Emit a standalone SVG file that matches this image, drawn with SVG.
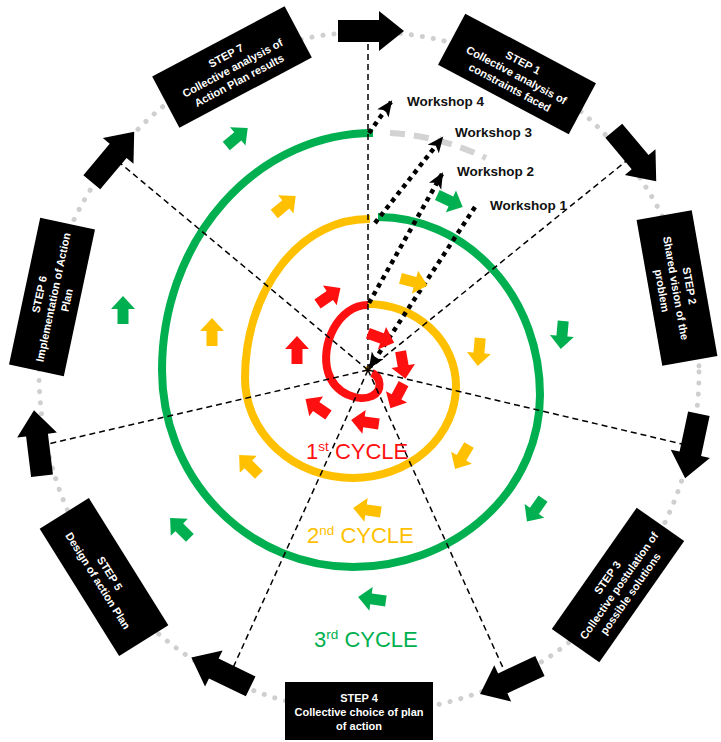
<svg xmlns="http://www.w3.org/2000/svg" xmlns:xlink="http://www.w3.org/1999/xlink" width="721" height="742" viewBox="0 0 721 742">
<style>
.ring{fill:none;stroke-width:8;stroke-linecap:butt}
.rad{stroke:#000;stroke-width:1.5;stroke-dasharray:6 4;fill:none}
.ws{stroke:#000;stroke-width:4.5;stroke-dasharray:4.5 4.5;fill:none}
.box{fill:#000}
.bt{fill:#fff;font-family:"Liberation Sans Narrow","Liberation Sans",Arial,sans-serif;font-weight:bold;font-size:11px;text-anchor:middle}
.wl{fill:#111;font-family:"Liberation Sans",Arial,sans-serif;font-weight:bold;font-size:13.5px}
.cy{font-family:"Liberation Sans",Arial,sans-serif;font-size:22px}
.g{fill:#00b050}.o{fill:#ffc000}.r{fill:#ff1010}
</style>
<defs>
<path id="ba" d="M-33,-11 L8,-11 L8,-20 L33,0 L8,20 L8,11 L-33,11 Z" fill="#000"/>
<path id="sa" d="M-14,-5.5 L1,-5.5 L1,-12 L14,0 L1,12 L1,5.5 L-14,5.5 Z"/>
<marker id="ah" markerUnits="userSpaceOnUse" markerWidth="18" markerHeight="16" refX="14" refY="7" orient="auto">
<path d="M0,0 L16,7 L0,14 L4,7 Z" fill="#000"/>
</marker>
</defs>
<rect width="721" height="742" fill="#fff"/>
<ellipse cx="369" cy="372" rx="330" ry="340" fill="none" stroke="#cfcfcf" stroke-width="5" stroke-linecap="round" stroke-dasharray="0.1 11"/>
<g id="cycles">
<path class="ring" stroke="#ff1010" stroke-width="9" d="M372,373 C381,377 383,391 372,396 C360,402 335,395 328,372 C320,345 338,305 368,305"/>
<path class="ring" stroke="#ffc000" d="M368,304 A88,82 0 0 1 456,386 A103,92 0 0 1 353,478 A108,100 0 0 1 245,378 A123,159 0 0 1 370,219"/>
<path class="ring" stroke="#00b050" d="M378,217 A162,178 0 0 1 540,395 A187,172 0 0 1 353,567 A191,197 0 0 1 162,370 A211,237 0 0 1 373,133"/>
<path fill="none" stroke="#d3d3d3" stroke-width="6" stroke-dasharray="15 9" d="M390,133 Q440,136 486,158"/>
<circle cx="368" cy="369" r="3" fill="#f0a000"/>
</g>
<g id="connectors">
<line class="rad" x1="368" y1="370" x2="368" y2="40"/>
<line class="rad" x1="368" y1="370" x2="630" y2="158"/>
<line class="rad" x1="368" y1="370" x2="682" y2="444"/>
<line class="rad" x1="368" y1="370" x2="504" y2="670"/>
<line class="rad" x1="368" y1="370" x2="232" y2="670"/>
<line class="rad" x1="368" y1="370" x2="48" y2="444"/>
<line class="rad" x1="368" y1="370" x2="120" y2="163"/>
<line class="ws" x1="369" y1="133" x2="391" y2="102" marker-end="url(#ah)"/>
<line class="ws" x1="375" y1="223" x2="442" y2="138" marker-end="url(#ah)"/>
<line class="ws" x1="369" y1="303" x2="442" y2="174" marker-end="url(#ah)"/>
<line class="ws" x1="475" y1="207" x2="370" y2="367" marker-end="url(#ah)"/>
</g>
<g id="small-arrows">
<use href="#sa" class="g" transform="translate(237,137) rotate(-40)"/>
<use href="#sa" class="g" transform="translate(450,201) rotate(25)"/>
<use href="#sa" class="g" transform="translate(562,335) rotate(95)"/>
<use href="#sa" class="g" transform="translate(535,510) rotate(125)"/>
<use href="#sa" class="g" transform="translate(372,599) rotate(188)"/>
<use href="#sa" class="g" transform="translate(180,528) rotate(-135)"/>
<use href="#sa" class="g" transform="translate(123,310) rotate(-90)"/>
<use href="#sa" class="o" transform="translate(285,205) rotate(-40)"/>
<use href="#sa" class="o" transform="translate(414,282) rotate(15)"/>
<use href="#sa" class="o" transform="translate(479,352) rotate(95)"/>
<use href="#sa" class="o" transform="translate(462,457) rotate(120)"/>
<use href="#sa" class="o" transform="translate(367,510) rotate(188)"/>
<use href="#sa" class="o" transform="translate(249,465) rotate(-135)"/>
<use href="#sa" class="o" transform="translate(212,332) rotate(-90)"/>
<use href="#sa" class="r" transform="translate(329,296) rotate(-35)"/>
<use href="#sa" class="r" transform="translate(381,338) rotate(20)"/>
<use href="#sa" class="r" transform="translate(403,365) rotate(80)"/>
<use href="#sa" class="r" transform="translate(397,396) rotate(118)"/>
<use href="#sa" class="r" transform="translate(365,422) rotate(188)"/>
<use href="#sa" class="r" transform="translate(317,407) rotate(-145)"/>
<use href="#sa" class="r" transform="translate(297,350) rotate(-90)"/>
</g>
<g id="flow-arrows">
<use href="#ba" transform="translate(371,31)"/>
<use href="#ba" transform="translate(635,156) rotate(50)"/>
<use href="#ba" transform="translate(692,446) rotate(102)"/>
<use href="#ba" transform="translate(510,680) rotate(155)"/>
<use href="#ba" transform="translate(221,672) rotate(206)"/>
<use href="#ba" transform="translate(38,443) rotate(263)"/>
<use href="#ba" transform="translate(113,157) rotate(-50)"/>
</g>
<g id="step1" transform="translate(517,74) rotate(28)">
<rect class="box" x="-74" y="-29" width="148" height="58"/>
<text class="bt" y="-9">STEP 1</text><text class="bt" y="5">Collective analysis of</text><text class="bt" y="19">constraints faced</text>
</g>
<g id="step2" transform="translate(677,288) rotate(80)">
<rect class="box" x="-74" y="-28" width="148" height="56"/>
<text class="bt" y="-9">STEP 2</text><text class="bt" y="5">Shared vision of the</text><text class="bt" y="19">problem</text>
</g>
<g id="step3" transform="translate(618,585) rotate(-55)">
<rect class="box" x="-74" y="-29" width="148" height="58"/>
<text class="bt" y="-9">STEP 3</text><text class="bt" y="5">Collective postulation of</text><text class="bt" y="19">possible solutions</text>
</g>
<g id="step4" transform="translate(359,711)">
<rect class="box" x="-74" y="-29" width="148" height="58"/>
<text class="bt" y="-9">STEP 4</text><text class="bt" y="5">Collective choice of plan</text><text class="bt" y="19">of action</text>
</g>
<g id="step5" transform="translate(104,577) rotate(58)">
<rect class="box" x="-75" y="-29" width="150" height="58"/>
<text class="bt" y="-3">STEP 5</text><text class="bt" y="11">Design of action Plan</text>
</g>
<g id="step6" transform="translate(52,297) rotate(-78)">
<rect class="box" x="-75" y="-28" width="150" height="56"/>
<text class="bt" y="-9">STEP 6</text><text class="bt" y="5">Implementation of Action</text><text class="bt" y="19">Plan</text>
</g>
<g id="step7" transform="translate(232,67) rotate(-28)">
<rect class="box" x="-75" y="-29" width="150" height="58"/>
<text class="bt" y="-9">STEP 7</text><text class="bt" y="5">Collective analysis of</text><text class="bt" y="19">Action Plan results</text>
</g>
<g id="labels">
<text class="wl" x="407" y="106">Workshop 4</text>
<text class="wl" x="455" y="137">Workshop 3</text>
<text class="wl" x="457" y="176">Workshop 2</text>
<text class="wl" x="490" y="210">Workshop 1</text>
<text class="cy" x="306" y="459" fill="#ff1010">1<tspan font-size="13.5" dy="-8">st</tspan><tspan dy="8"> CYCLE</tspan></text>
<text class="cy" x="307" y="543" fill="#ffc000">2<tspan font-size="13.5" dy="-8">nd</tspan><tspan dy="8"> CYCLE</tspan></text>
<text class="cy" x="314" y="647" fill="#00b050">3<tspan font-size="13.5" dy="-8">rd</tspan><tspan dy="8"> CYCLE</tspan></text>
</g>
</svg>
